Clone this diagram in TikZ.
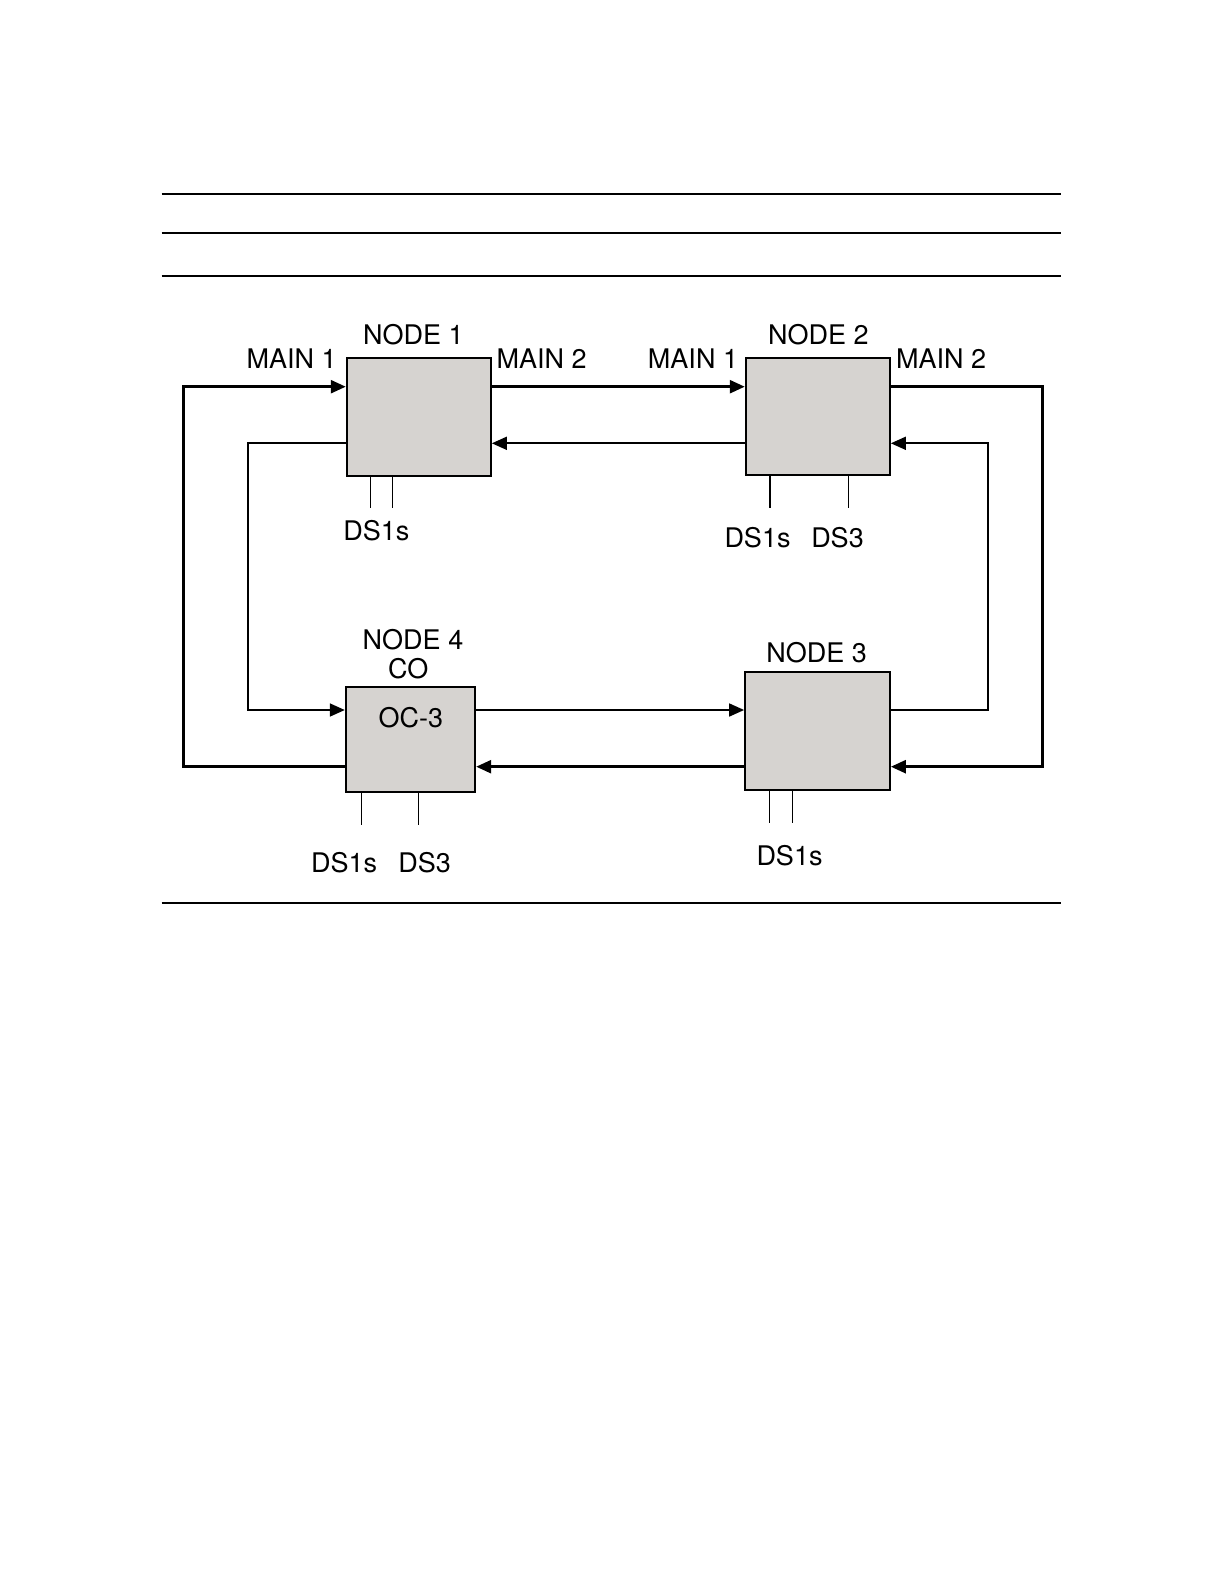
\documentclass[tikz,border=0pt]{standalone}
\usepackage{fontspec}
\setmainfont{TeX Gyre Heros}
\usetikzlibrary{arrows.meta}
\definecolor{boxgray}{RGB}{214,211,208}
\tikzset{
  box/.style={draw=black, line width=1.8pt, fill=boxgray, rectangle, inner sep=0pt},
  lbl/.style={anchor=base, inner sep=0pt, font=\fontsize{27}{31}\selectfont},
  mainline/.style={line width=2.6pt},
  protline/.style={line width=1.7pt},
  dsline/.style={line width=1.2pt},
  dsthin/.style={line width=0.9pt},
  rule/.style={line width=2.2pt},
  arr/.style={-{Triangle[length=15pt,width=13pt]}},
}
\begin{document}
\begin{tikzpicture}[x=1pt,y=-1pt]
\useasboundingbox (0,0) rectangle (1224,1584);
% horizontal rules
\draw[rule] (161.6,194) -- (1061.4,194);
\draw[rule] (161.6,233.3) -- (1061.4,233.3);
\draw[rule] (161.6,275.7) -- (1061.4,275.7);
\draw[rule] (161.6,903) -- (1061.4,903);
% boxes
\node[box, minimum width=144.3pt, minimum height=118pt] (n1) at (418.8,416.7) {};
\node[box, minimum width=144.3pt, minimum height=117.3pt] (n2) at (817.8,416.3) {};
\node[box, minimum width=145pt, minimum height=118.3pt] (n3) at (817.5,730.8) {};
\node[box, minimum width=129.6pt, minimum height=105pt] (n4) at (410.5,739.2) {};
% routing coordinates
\coordinate (mainA) at (0,386.7);
\coordinate (protA) at (0,443.3);
\coordinate (protB) at (0,710);
\coordinate (mainB) at (0,766.7);
\coordinate (xo1) at (183.3,0);
\coordinate (xi1) at (248.3,0);
\coordinate (xi2) at (988.3,0);
\coordinate (xo2) at (1042.3,0);
% main ring (thick)
\draw[mainline,arr] (n1.east |- mainA) -- (n2.west |- mainA);
\draw[mainline,arr] (n2.east |- mainA) -| (xo2 |- mainB) -- (n3.east |- mainB);
\draw[mainline,arr] (n3.west |- mainB) -- (n4.east |- mainB);
\draw[mainline,arr] (n4.west |- mainB) -| (xo1 |- mainA) -- (n1.west |- mainA);
% protection ring (thin)
\draw[protline,arr] (n2.west |- protA) -- (n1.east |- protA);
\draw[protline,arr] (n1.west |- protA) -| (xi1 |- protB) -- (n4.west |- protB);
\draw[protline,arr] (n4.east |- protB) -- (n3.west |- protB);
\draw[protline,arr] (n3.east |- protB) -| (xi2 |- protA) -- (n2.east |- protA);
% tributary drops
\draw[dsline] (n1.south -| 370.7,0) -- ++(0,31.6);
\draw[dsline] (n1.south -| 392.3,0) -- ++(0,31.6);
\draw[dsline] (n2.south -| 770,0) -- ++(0,32.3);
\draw[dsline] (n2.south -| 848.7,0) -- ++(0,32.3);
\draw[dsline] (n4.south -| 361.7,0) -- ++(0,32.3);
\draw[dsthin] (n4.south -| 418.3,0) -- ++(0,32.3);
\draw[dsthin] (n3.south -| 769.3,0) -- ++(0,31.7);
\draw[dsthin] (n3.south -| 792.3,0) -- ++(0,31.7);
% labels
\node[lbl] (t1) at (413.3,344.3) {NODE 1};
\node[lbl] (t2) at (291.7,368.3) {MAIN 1};
\node[lbl] (t3) at (541.7,368.3) {MAIN 2};
\node[lbl] (t4) at (818.3,344.3) {NODE 2};
\node[lbl] (t5) at (693,368.3) {MAIN 1};
\node[lbl] (t6) at (941.2,368.3) {MAIN 2};
\node[lbl] (t7) at (376.3,540) {DS1s};
\node[lbl] (t8) at (757.5,547.7) {DS1s};
\node[lbl] (t9) at (837.5,547.7) {DS3};
\node[lbl] (t10) at (413,649) {NODE 4};
\node[lbl] (t11) at (408.2,678.3) {CO};
\node[lbl] (t12) at (410.8,727.3) {OC-3};
\node[lbl] (t13) at (344.2,872.7) {DS1s};
\node[lbl] (t14) at (424.7,872.7) {DS3};
\node[lbl] (t15) at (816.7,662.3) {NODE 3};
\node[lbl] (t16) at (789.5,865) {DS1s};
\end{tikzpicture}
\end{document}
